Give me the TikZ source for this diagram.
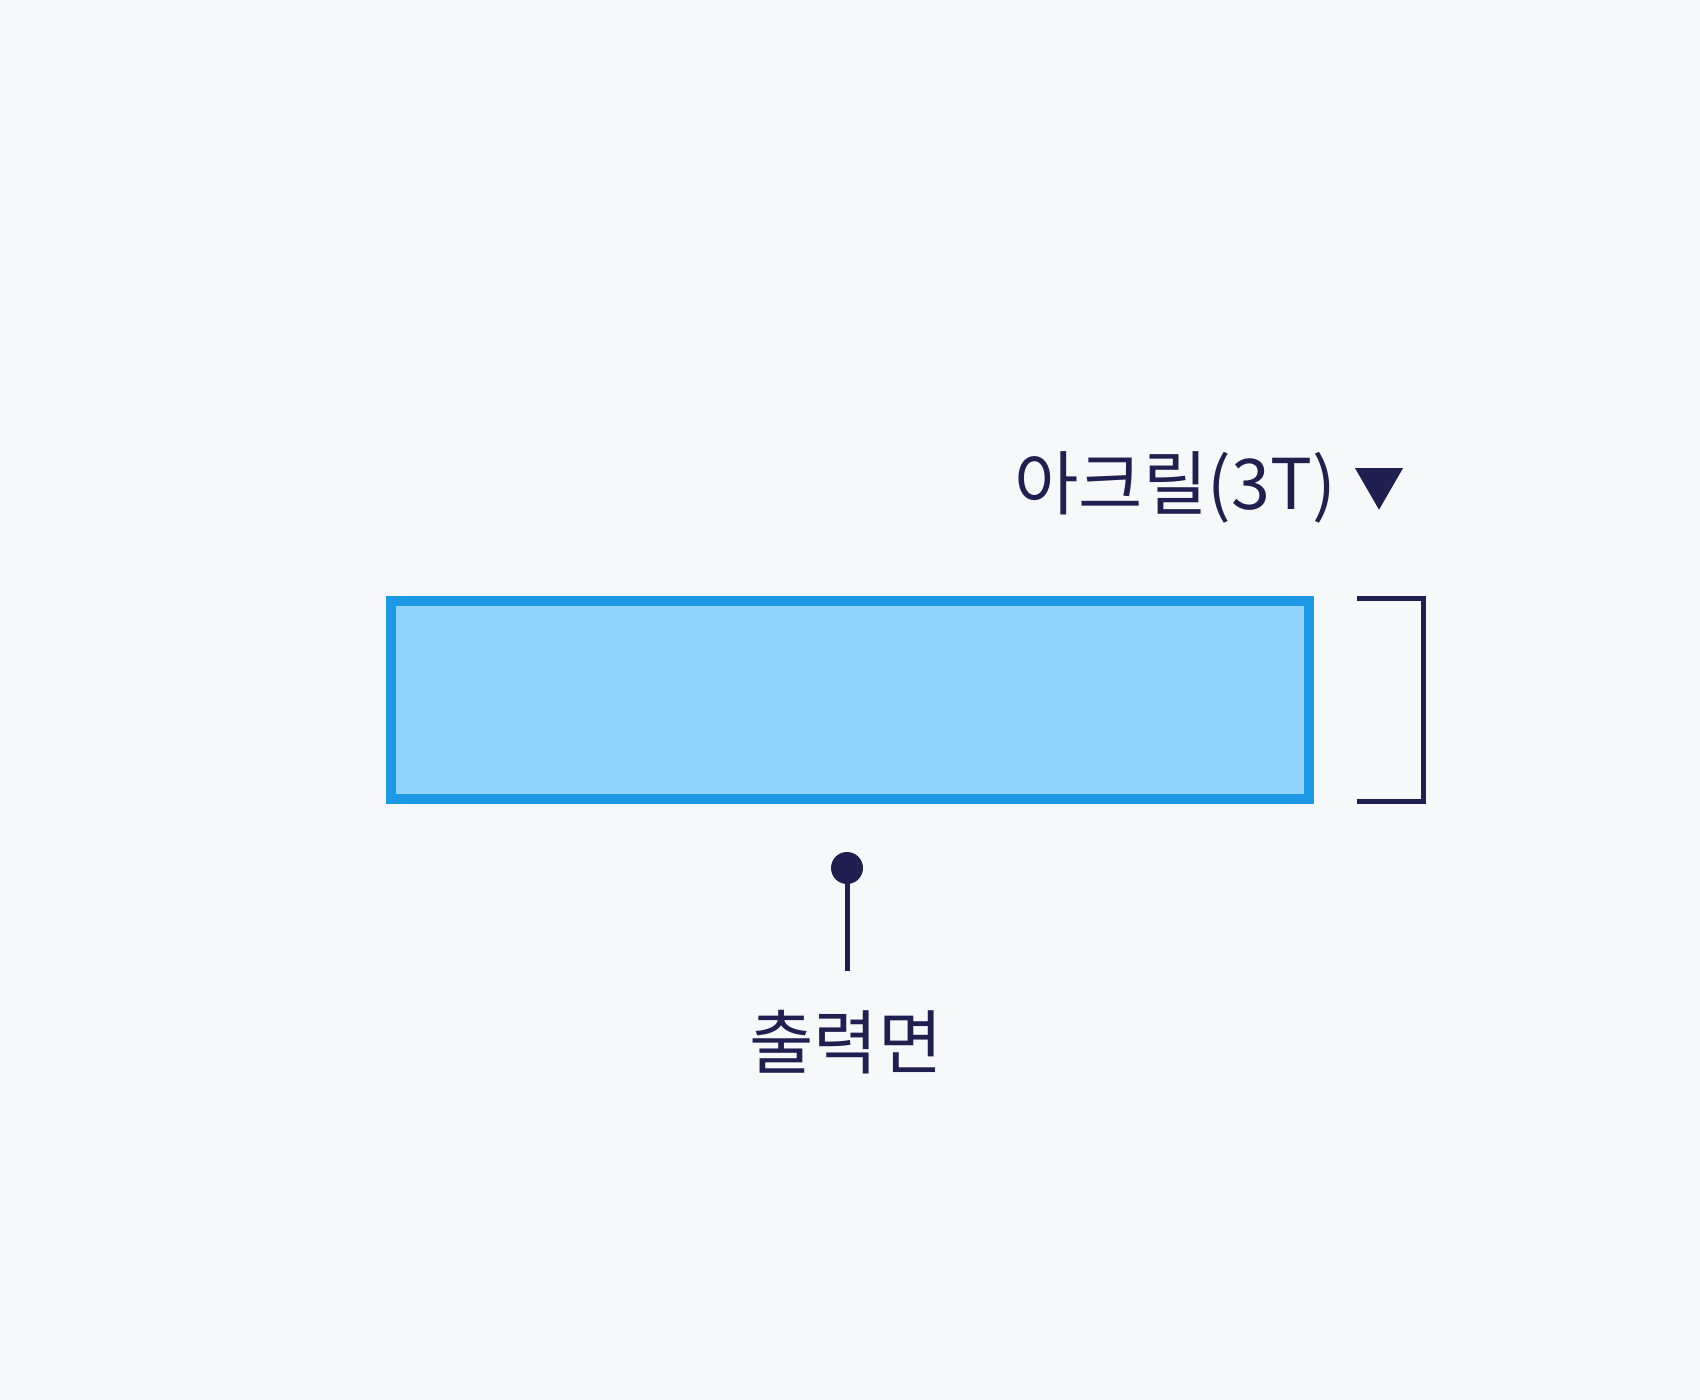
\documentclass[tikz,border=0pt]{standalone}
\usepackage{fontspec}
\setmainfont{Noto Sans CJK KR}
\usetikzlibrary{shapes.geometric}
\definecolor{pagebg}{HTML}{F7F8FA}
\definecolor{navy}{HTML}{202050}
\definecolor{skyline}{HTML}{1C9AE6}
\definecolor{skyfill}{HTML}{90D4FE}
\tikzset{
    plate/.style={draw=skyline, fill=skyfill, line width=5pt, rectangle,
        minimum width=459pt, minimum height=99pt, inner sep=0pt},
    label/.style={text=navy, font=\fontsize{35}{42}\selectfont, inner sep=0pt},
    guide/.style={draw=navy, line width=2.5pt},
    pointer/.style={regular polygon, regular polygon sides=3, shape border rotate=180,
        fill=navy, minimum size=27.7pt, inner sep=0pt}
}

\begin{document}
\begin{tikzpicture}[x=0.5pt, y=-0.5pt]
    \fill[pagebg] (0,0) rectangle (1700,1400);
    \useasboundingbox (0,0) rectangle (1700,1400);

    \node[plate] (acryl) at (850,700) {};
    \node[label, anchor=base west] (thick) at (1014,510) {아크릴(3T)};
    \node[pointer] (down) at (1379,482) {};

    % side bracket
    \coordinate (bt) at (1357,598.5);
    \coordinate (bb) at (1357,801.5);
    \draw[guide] (bt) -| (1423.5,700) |- (bb);

    % output face pin
    \node[circle, fill=navy, minimum size=16pt, inner sep=0pt] (dot) at (847,868) {};
    \coordinate (pinend) at (847,971);
    \draw[guide] (dot.center) -- (pinend);
    \node[label] (face) at (846,1042) {출력면};
\end{tikzpicture}
\end{document}
